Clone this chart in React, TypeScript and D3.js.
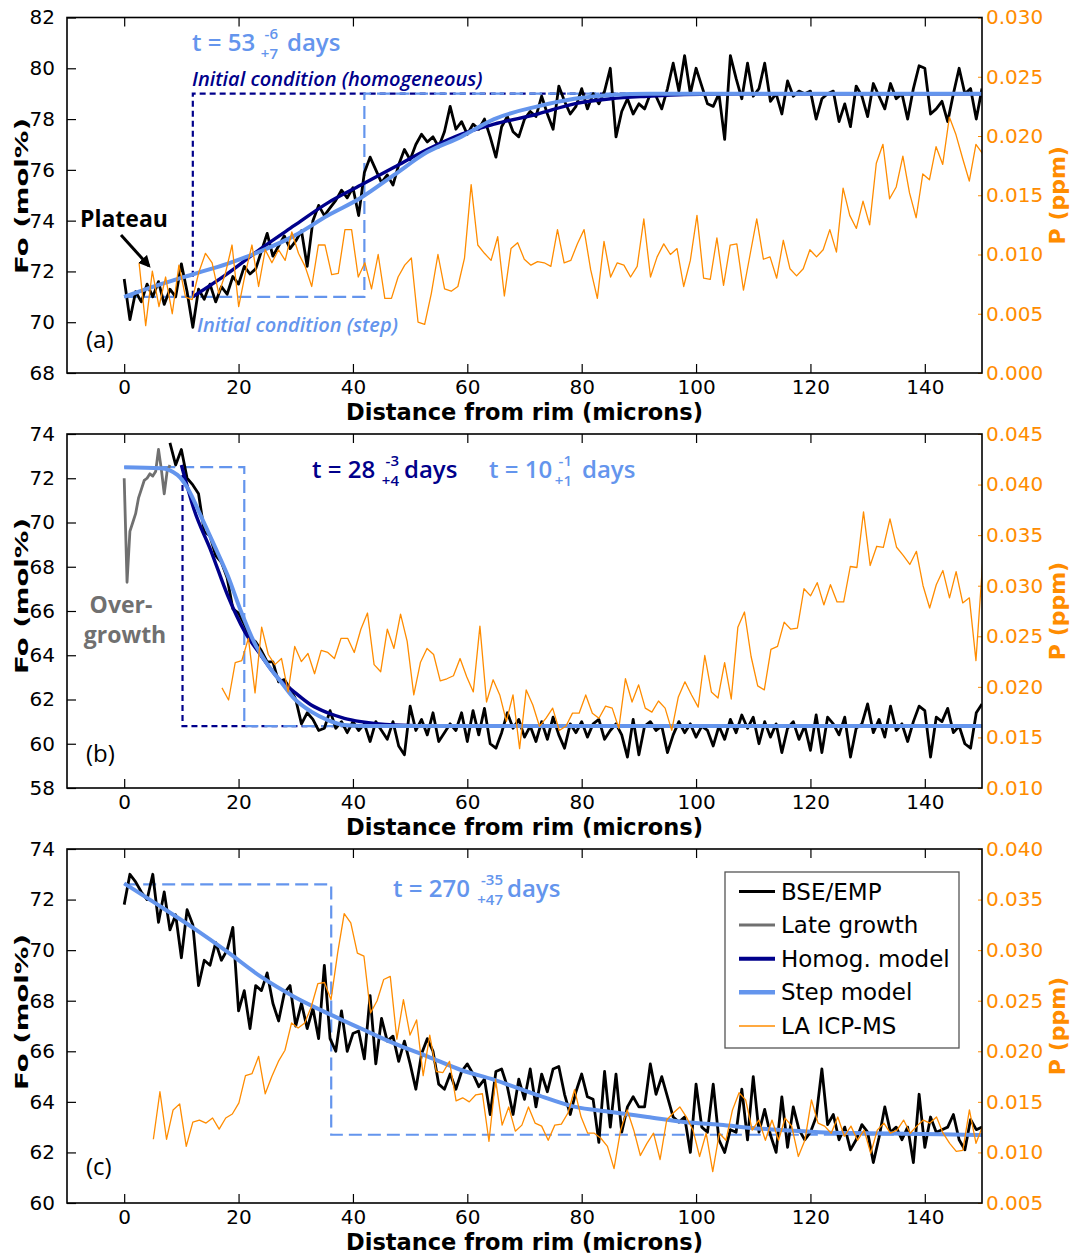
import React, { useEffect, useRef } from 'react';
import * as d3 from 'd3';

const width = 1073;
const height = 1254;
const plotLeft = 67;
const plotRight = 982;

const navy = '#00008b';
const lightBlue = '#6495ed';
const orange = '#ff8c00';
const grey = '#707070';
const tickFont = '"DejaVu Sans", sans-serif';
const noteFont = '"Open Sans", sans-serif';

const xDomain = [-10, 150];
const xTicks = [0, 20, 40, 60, 80, 100, 120, 140];

// ---------- panel (a) ----------
const foTicksA = [68, 70, 72, 74, 76, 78, 80, 82];
const pTicksA = [0, 0.005, 0.01, 0.015, 0.02, 0.025, 0.03];
const foStartA = 0;
const foA = [
  71.7, 70.1, 71.2, 70.8, 71.5, 71.0, 71.6, 70.7, 71.3, 71.0,
  72.3, 71.2, 69.8, 71.3, 70.9, 71.5, 70.8, 71.4, 71.1, 71.8,
  71.5, 72.2, 71.9, 72.1, 72.8, 73.5, 72.6, 73.0, 73.4, 72.9,
  73.2, 73.6, 72.2, 74.0, 74.6, 74.2, 74.5, 74.8, 75.2, 74.9,
  75.3, 74.2, 75.9, 76.5, 76.0, 75.5, 75.8, 75.4, 76.2, 76.8,
  76.4, 77.0, 77.4, 77.1, 77.3, 76.9, 77.5, 78.5, 77.6, 77.9,
  77.4, 77.8, 77.6, 78.0, 77.3, 76.5, 77.7, 78.1, 77.5, 77.3,
  78.0, 78.3, 78.1, 78.9, 78.2, 77.6, 79.3, 78.7, 78.2, 78.5,
  79.2, 78.4, 79.0, 78.6, 79.1, 80.0, 77.3, 78.3, 78.8, 78.2,
  78.6, 78.4, 79.0, 78.9, 78.4, 79.2, 80.2, 79.1, 80.5, 79.0,
  80.0, 79.3, 78.6, 78.5, 79.0, 77.2, 80.5, 79.6, 78.8, 80.2,
  78.9, 79.2, 80.2, 78.7, 79.0, 78.2, 79.5, 78.9, 79.1, 79.0,
  79.1, 78.0, 78.8, 79.0, 79.1, 77.9, 78.6, 77.7, 79.3, 78.9,
  78.1, 79.4, 78.9, 78.4, 79.4, 78.8, 79.0, 78.0, 79.2, 80.1,
  80.0, 78.2, 78.4, 78.7, 77.9, 79.0, 80.0, 79.0, 79.2, 78.0,
  79.2,
];
const pSpanA = [2.6, 150.1];
const pA = [
  0.0093, 0.0040, 0.0086, 0.0056, 0.0081, 0.0050, 0.0091, 0.0064, 0.0062, 0.0085,
  0.0101, 0.0093, 0.0067, 0.0084, 0.0108, 0.0056, 0.0084, 0.0108, 0.0073, 0.0104,
  0.0093, 0.0104, 0.0095, 0.0119, 0.0101, 0.0090, 0.0073, 0.0108, 0.0108, 0.0083,
  0.0084, 0.0121, 0.0121, 0.0081, 0.0093, 0.0071, 0.0100, 0.0063, 0.0063, 0.0081,
  0.0091, 0.0097, 0.0043, 0.0041, 0.0067, 0.0100, 0.0071, 0.0069, 0.0073, 0.0097,
  0.0159, 0.0108, 0.0101, 0.0095, 0.0115,
  0.0065, 0.0105, 0.0110, 0.0096, 0.0091, 0.0094, 0.0093, 0.0090, 0.0121,
  0.0093, 0.0095, 0.0109, 0.0121, 0.0087, 0.0063, 0.0111, 0.0081, 0.0093, 0.0091,
  0.0081, 0.0090, 0.0130, 0.0081, 0.0098, 0.0109, 0.0100, 0.0105, 0.0073, 0.0095,
  0.0133, 0.0080, 0.0079, 0.0114, 0.0074, 0.0108, 0.0109, 0.0070, 0.0100, 0.0130,
  0.0096, 0.0098, 0.0080, 0.0112, 0.0088, 0.0082, 0.0088, 0.0104, 0.0098, 0.0104,
  0.0121, 0.0102, 0.0156, 0.0133, 0.0122, 0.0145, 0.0125, 0.0177, 0.0193, 0.0147,
  0.0157, 0.0183, 0.0152, 0.0131, 0.0168, 0.0163, 0.0191, 0.0176, 0.0216, 0.0201,
  0.0181, 0.0162, 0.0193, 0.0185,
];
const homogA = [
  [12, 71.0], [18, 71.9], [23.9, 72.9], [29.7, 73.8], [35.6, 74.7], [41.4, 75.4],
  [47.2, 76.1], [53, 76.8], [58.9, 77.4], [64.7, 77.8], [72.3, 78.2], [78.7, 78.6],
  [85.1, 78.8], [91.5, 78.9], [97.9, 78.97], [110, 79.0], [150, 79.0],
];
const stepA = [
  [0, 71.0], [6.4, 71.5], [12.2, 71.9], [18, 72.3], [23.9, 72.8], [29.7, 73.4],
  [35.6, 74.2], [41.4, 74.9], [47.2, 75.8], [53, 76.7], [58.9, 77.3], [64.7, 78.0],
  [72.3, 78.5], [78.7, 78.8], [85.1, 78.95], [92, 79.0], [150, 79.0],
];
const homogInitA = [[12, 71], [12, 79], [150, 79]];
const stepInitA = [[0, 71], [42, 71], [42, 79], [150, 79]];

// ---------- panel (b) ----------
const foTicksB = [58, 60, 62, 64, 66, 68, 70, 72, 74];
const pTicksB = [0.01, 0.015, 0.02, 0.025, 0.03, 0.035, 0.04, 0.045];
const lateXB = [0, 0.5, 1, 1.5, 2, 2.5, 3, 3.5, 4, 4.5, 5, 5.5, 6, 6.5, 7, 7.5, 8];
const lateFoB = [72.0, 67.3, 69.6, 70.0, 70.4, 71.1, 71.5, 71.9, 72.0, 72.2, 72.1, 72.3, 73.3, 72.4, 71.3, 72.3, 72.6];
const foStartB = 8;
const foB = [
  73.6, 72.6, 73.3, 72.0, 71.7, 71.3, 69.6, 69.4, 68.5, 68.2,
  67.5, 66.1, 65.9, 65.4, 64.8, 64.6, 64.2, 63.7, 63.7, 62.8,
  62.9, 62.5, 62.0, 60.9, 61.4, 61.1, 60.6, 60.7, 61.5, 60.7,
  61.0, 60.5, 61.0, 60.6, 60.9, 60.1, 61.0, 60.6, 60.2, 61.0,
  59.9, 59.5, 61.7, 60.6, 61.1, 60.4, 61.4, 60.1, 60.5, 60.9,
  60.6, 61.4, 60.1, 61.5, 60.4, 61.6, 60.0, 59.8, 60.5, 61.4,
  60.7, 61.1, 60.3, 60.8, 60.1, 61.0, 60.2, 61.2, 60.4, 59.8,
  60.9, 60.5, 61.0, 60.3, 60.9, 61.1, 60.2, 60.6, 60.9, 60.4,
  59.4, 61.1, 59.5, 60.8, 61.0, 60.6, 60.8, 59.6, 60.4, 61.0,
  60.5, 60.9, 60.3, 60.8, 60.6, 59.9, 60.8, 60.2, 61.1, 60.5,
  61.3, 60.7, 61.2, 60.0, 61.0, 60.3, 60.9, 59.6, 60.7, 61.0,
  60.2, 60.8, 59.7, 61.3, 59.6, 61.2, 60.9, 60.4, 61.2, 59.4,
  60.7, 60.9, 61.8, 60.5, 61.1, 60.3, 61.7, 60.6, 60.9, 60.1,
  61.0, 61.7, 61.5, 59.4, 61.2, 61.0, 61.6, 60.5, 60.8, 60.0,
  59.8, 61.4, 61.8,
];
const pSpanB = [17.1, 150.1];
const pB = [
  0.0199, 0.0187, 0.0224, 0.0226, 0.0248, 0.0194, 0.0259, 0.0232, 0.0222, 0.0228,
  0.0195, 0.0240, 0.0225, 0.0233, 0.0213, 0.0236, 0.0234, 0.0228, 0.0248, 0.0248,
  0.0234, 0.0257, 0.0273, 0.0222, 0.0215, 0.0257, 0.0238, 0.0272, 0.0245, 0.0192,
  0.0224, 0.0238, 0.0232, 0.0206, 0.0208, 0.0211, 0.0228, 0.0210, 0.0195, 0.0260,
  0.0185, 0.0207, 0.0192, 0.0166, 0.0192, 0.0139,
  0.0197, 0.0182, 0.0161, 0.0169, 0.0179, 0.0157, 0.0161, 0.0174, 0.0174, 0.0192,
  0.0174, 0.0169, 0.0181, 0.0179, 0.0159, 0.0208, 0.0185, 0.0202, 0.0179, 0.0175,
  0.0186, 0.0179, 0.0157, 0.0190, 0.0205, 0.0192, 0.0180, 0.0231, 0.0195, 0.0189,
  0.0224, 0.0188, 0.0259, 0.0274, 0.0230, 0.0201, 0.0197, 0.0237, 0.0240, 0.0264,
  0.0257, 0.0258, 0.0297, 0.0290, 0.0303, 0.0281, 0.0301, 0.0284, 0.0284, 0.0319,
  0.0318, 0.0373, 0.0320, 0.0339, 0.0338, 0.0366, 0.0338, 0.0330, 0.0321, 0.0334,
  0.0300, 0.0278, 0.0301, 0.0315, 0.0288, 0.0314, 0.0283, 0.0288, 0.0226, 0.0322,
];
const homogB = [
  [10, 72.6], [12.2, 70.6], [15.2, 68.7], [18.1, 66.7], [21, 65.1], [23.9, 64.0],
  [26.8, 63.0], [29.7, 62.35], [32.7, 61.75], [35.6, 61.4], [38.5, 61.15], [41.4, 61.0],
  [47.2, 60.85], [55, 60.8], [150, 60.8],
];
const stepB = [
  [0, 72.5], [6.4, 72.45], [9.3, 72.15], [11.1, 71.55], [13.4, 70.3], [15.7, 69.0],
  [18.1, 67.6], [20.4, 66.0], [22.7, 64.6], [25.1, 63.56], [27.4, 62.8], [29.7, 62.05],
  [32.7, 61.45], [35.6, 61.07], [38.5, 60.85], [42, 60.8], [150, 60.8],
];
const homogInitB = [[10.2, 72.6], [10.2, 60.8], [150, 60.8]];
const stepInitB = [[0, 72.5], [21, 72.5], [21, 60.8], [150, 60.8]];

// ---------- panel (c) ----------
const foTicksC = [60, 62, 64, 66, 68, 70, 72, 74];
const pTicksC = [0.005, 0.01, 0.015, 0.02, 0.025, 0.03, 0.035, 0.04];
const foStartC = 0;
const foC = [
  71.8, 73.0, 72.7, 72.3, 72.0, 73.0, 71.1, 72.3, 70.8, 71.4,
  69.7, 71.6, 71.0, 68.6, 69.6, 69.4, 70.3, 69.6, 70.0, 70.9,
  67.6, 68.4, 66.9, 68.6, 68.4, 69.1, 67.9, 67.2, 68.3, 68.6,
  67.0, 67.9, 66.9, 67.7, 66.5, 69.4, 66.5, 66.0, 67.6, 66.0,
  66.7, 66.8, 65.7, 68.2, 65.5, 67.3, 66.4, 66.6, 65.6, 66.4,
  65.5, 64.5, 65.9, 66.5, 66.0, 64.7, 64.5, 65.1, 64.5, 65.2,
  65.5, 65.1, 64.6, 64.9, 63.5, 65.2, 65.3, 64.6, 63.5, 64.9,
  64.1, 65.3, 63.8, 65.1, 64.4, 65.3, 65.4, 64.3, 63.5, 64.4,
  65.1, 64.2, 64.1, 62.4, 65.2, 63.0, 65.1, 62.8, 63.8, 64.2,
  63.8, 63.8, 65.5, 64.3, 65.0, 64.2, 63.4, 63.2, 63.4, 62.0,
  64.7, 63.0, 62.8, 64.7, 62.5, 62.0, 62.9, 62.8, 64.5, 62.5,
  65.0, 62.8, 63.7, 62.7, 62.0, 64.2, 62.2, 63.8, 62.9, 62.5,
  62.8, 63.4, 65.3, 63.1, 63.5, 62.5, 63.0, 62.1, 62.5, 63.1,
  62.8, 61.6, 62.6, 63.8, 62.8, 63.0, 62.5, 63.0, 61.6, 64.3,
  62.2, 63.4, 62.8, 62.9, 63.0, 63.5, 62.5, 62.1, 63.3, 62.9,
  63.0,
];
const pSpanC = [5.1, 150.1];
const pC = [
  0.0113, 0.0160, 0.0113, 0.0142, 0.0148, 0.0106, 0.0130, 0.0132, 0.0129, 0.0134,
  0.0123, 0.0134, 0.0138, 0.0149, 0.0176, 0.0178, 0.0195, 0.0158, 0.0175, 0.0190,
  0.0201, 0.0228, 0.0223, 0.0228, 0.0244, 0.0267, 0.0268, 0.0251, 0.0297, 0.0336,
  0.0327, 0.0297, 0.0294, 0.0238, 0.0250, 0.0271, 0.0274, 0.0212, 0.0251, 0.0216,
  0.0231, 0.0176, 0.0216, 0.0180, 0.0179, 0.0190, 0.0151, 0.0154, 0.0150, 0.0157,
  0.0158, 0.0111, 0.0172, 0.0127, 0.0145, 0.0121,
  0.0127, 0.0145, 0.0129, 0.0126, 0.0112, 0.0127, 0.0128, 0.0139, 0.0162, 0.0135,
  0.0119, 0.0119, 0.0114, 0.0106, 0.0084, 0.0122, 0.0142, 0.0122, 0.0097, 0.0109,
  0.0119, 0.0093, 0.0132, 0.0139, 0.0145, 0.0135, 0.0122, 0.0096, 0.0119, 0.0081,
  0.0119, 0.0112, 0.0142, 0.0159, 0.0152, 0.0122, 0.0132, 0.0112, 0.0132, 0.0112,
  0.0134, 0.0126, 0.0096, 0.0112, 0.0152, 0.0129, 0.0126, 0.0119, 0.0135, 0.0116,
  0.0126, 0.0112, 0.0122, 0.0099, 0.0122, 0.0129, 0.0119, 0.0122, 0.0132, 0.0119,
  0.0126, 0.0132, 0.0129, 0.0135, 0.0119, 0.0109, 0.0101, 0.0102, 0.0142, 0.0109,
  0.0126,
];
const stepC = [
  [0, 72.64], [6.4, 71.72], [12.2, 70.86], [18, 69.94], [23.9, 68.95], [29.7, 68.16],
  [35.6, 67.5], [41.4, 66.9], [47.2, 66.31], [53.1, 65.79], [58.9, 65.26], [64.7, 64.87],
  [72.3, 64.27], [78.7, 63.81], [85.1, 63.6], [91.5, 63.4], [97.9, 63.2], [104.2, 63.09],
  [110.6, 62.95], [117, 62.86], [123.4, 62.78], [129.8, 62.76], [142.6, 62.72], [150, 62.69],
];
const stepInitC = [[0, 72.6], [36.2, 72.6], [36.2, 62.7], [150, 62.7]];

const legendLabels = ['BSE/EMP', 'Late growth', 'Homog. model', 'Step model', 'LA ICP-MS'];
const legendColors = ['#000', grey, navy, lightBlue, orange];
const legendWidths = [3, 3, 4, 4.5, 1.5];

const panels = [
  {
    key: 'a', top: 17.5, bottom: 373, foDomain: [68, 82], foTicks: foTicksA,
    pDomain: [0, 0.03], pTicks: pTicksA, foStart: foStartA, fo: foA, pSpan: pSpanA, p: pA,
    homog: homogA, step: stepA, homogInit: homogInitA, stepInit: stepInitA, labelMid: 196,
  },
  {
    key: 'b', top: 434, bottom: 788, foDomain: [58, 74], foTicks: foTicksB,
    pDomain: [0.01, 0.045], pTicks: pTicksB, foStart: foStartB, fo: foB, pSpan: pSpanB, p: pB,
    homog: homogB, step: stepB, homogInit: homogInitB, stepInit: stepInitB,
    lateX: lateXB, lateFo: lateFoB, labelMid: 596,
  },
  {
    key: 'c', top: 849, bottom: 1203, foDomain: [60, 74], foTicks: foTicksC,
    pDomain: [0.005, 0.04], pTicks: pTicksC, foStart: foStartC, fo: foC, pSpan: pSpanC, p: pC,
    homog: null, step: stepC, homogInit: null, stepInit: stepInitC, labelMid: 1012,
  },
];

function drawPanel(svg: any, cfg: any) {
  const x = d3.scaleLinear().domain(xDomain).range([plotLeft, plotRight]);
  const y = d3.scaleLinear().domain(cfg.foDomain).range([cfg.bottom, cfg.top]);
  const yP = d3.scaleLinear().domain(cfg.pDomain).range([cfg.bottom, cfg.top]);

  const g = svg.append('g').attr('class', 'panel-' + cfg.key);

  const clipId = 'clip-' + cfg.key;
  svg.append('defs').append('clipPath').attr('id', clipId)
    .append('rect')
    .attr('x', plotLeft).attr('y', cfg.top)
    .attr('width', plotRight - plotLeft).attr('height', cfg.bottom - cfg.top);

  const plot = g.append('g').attr('clip-path', `url(#${clipId})`);

  const line = d3.line<number[]>().x(d => x(d[0])).y(d => y(d[1]));
  const smooth = d3.line<number[]>().x(d => x(d[0])).y(d => y(d[1])).curve(d3.curveMonotoneX);
  const pLine = d3.line<number[]>().x(d => x(d[0])).y(d => yP(d[1]));

  // initial conditions (dashed)
  if (cfg.homogInit) {
    plot.append('path').datum(cfg.homogInit)
      .attr('d', line).attr('fill', 'none')
      .attr('stroke', navy).attr('stroke-width', 2.2)
      .attr('stroke-dasharray', '6 4');
  }
  plot.append('path').datum(cfg.stepInit)
    .attr('d', line).attr('fill', 'none')
    .attr('stroke', lightBlue).attr('stroke-width', 2.2)
    .attr('stroke-dasharray', '13 6');

  // measured profile
  const foPts = cfg.fo.map((v: number, i: number) => [cfg.foStart + i, v]);
  plot.append('path').datum(foPts)
    .attr('d', line).attr('fill', 'none')
    .attr('stroke', '#000').attr('stroke-width', 2.8)
    .attr('stroke-linejoin', 'round');

  if (cfg.lateX) {
    const latePts = cfg.lateX.map((v: number, i: number) => [v, cfg.lateFo[i]]);
    plot.append('path').datum(latePts)
      .attr('d', line).attr('fill', 'none')
      .attr('stroke', grey).attr('stroke-width', 2.8)
      .attr('stroke-linejoin', 'round');
  }

  // models
  if (cfg.homog) {
    plot.append('path').datum(cfg.homog)
      .attr('d', smooth).attr('fill', 'none')
      .attr('stroke', navy).attr('stroke-width', 3.4);
  }
  plot.append('path').datum(cfg.step)
    .attr('d', smooth).attr('fill', 'none')
    .attr('stroke', lightBlue).attr('stroke-width', 4);

  // LA ICP-MS P profile (sample positions evenly spaced over the scan)
  const n = cfg.p.length;
  const [p0, p1] = cfg.pSpan;
  const pPts = cfg.p.map((v: number, i: number) => [p0 + (i * (p1 - p0)) / (n - 1), v]);
  plot.append('path').datum(pPts)
    .attr('d', pLine).attr('fill', 'none')
    .attr('stroke', orange).attr('stroke-width', 1.3)
    .attr('stroke-linejoin', 'round');

  // axes
  const leftAxis = g.append('g')
    .attr('transform', `translate(${plotLeft},0)`)
    .call(d3.axisLeft(y).tickValues(cfg.foTicks).tickSize(-9).tickPadding(12).tickFormat(d3.format('d')));
  leftAxis.attr('font-size', 20).attr('font-family', tickFont);
  leftAxis.select('.domain').remove();
  leftAxis.selectAll('line').attr('stroke', '#000').attr('stroke-width', 1.2);
  leftAxis.selectAll('text').attr('fill', '#000');

  const rightAxis = g.append('g')
    .attr('transform', `translate(${plotRight},0)`)
    .call(d3.axisRight(yP).tickValues(cfg.pTicks).tickSize(-4).tickPadding(4).tickFormat(d3.format('.3f')));
  rightAxis.attr('font-size', 20).attr('font-family', tickFont);
  rightAxis.select('.domain').remove();
  rightAxis.selectAll('line').attr('stroke', orange).attr('stroke-width', 1);
  rightAxis.selectAll('text').attr('fill', orange);

  const bottomAxis = g.append('g')
    .attr('transform', `translate(0,${cfg.bottom})`)
    .call(d3.axisBottom(x).tickValues(xTicks).tickSize(-9).tickPadding(7).tickFormat(d3.format('d')));
  bottomAxis.attr('font-size', 20).attr('font-family', tickFont);
  bottomAxis.select('.domain').remove();
  bottomAxis.selectAll('line').attr('stroke', '#000').attr('stroke-width', 1.2);
  bottomAxis.selectAll('text').attr('fill', '#000');

  const topAxis = g.append('g')
    .attr('transform', `translate(0,${cfg.top})`)
    .call(d3.axisTop(x).tickValues(xTicks).tickSize(-9).tickFormat(() => ''));
  topAxis.select('.domain').remove();
  topAxis.selectAll('line').attr('stroke', '#000').attr('stroke-width', 1.2);

  // frame
  g.append('rect')
    .attr('x', plotLeft).attr('y', cfg.top)
    .attr('width', plotRight - plotLeft).attr('height', cfg.bottom - cfg.top)
    .attr('fill', 'none').attr('stroke', '#000').attr('stroke-width', 1.6);

  // axis titles
  g.append('text')
    .attr('x', (plotLeft + plotRight) / 2).attr('y', cfg.bottom + 46.5)
    .attr('text-anchor', 'middle')
    .attr('font-family', tickFont).attr('font-weight', 'bold').attr('font-size', 22.5)
    .text('Distance from rim (microns)');

  g.append('text')
    .attr('transform', `translate(28,${cfg.labelMid}) rotate(-90)`)
    .attr('text-anchor', 'middle')
    .attr('font-family', tickFont).attr('font-weight', 'bold').attr('font-size', 17)
    .attr('textLength', 156).attr('lengthAdjust', 'spacingAndGlyphs')
    .text('Fo (mol%)');

  g.append('text')
    .attr('transform', `translate(1065,${(cfg.top + cfg.bottom) / 2}) rotate(-90)`)
    .attr('text-anchor', 'middle')
    .attr('font-family', tickFont).attr('font-weight', 'bold').attr('font-size', 22)
    .attr('fill', orange)
    .text('P (ppm)');

  return { x, y, yP };
}

// "t = 53 (-6/+7) days" style label with stacked super/subscript
function timeLabel(svg: any, px: number, py: number, main: string, sup: string, sub: string, scriptEnd: number, daysX: number, color: string) {
  const t = svg.append('g')
    .attr('font-family', noteFont).attr('font-weight', 600).attr('fill', color);
  t.append('text').attr('x', px).attr('y', py).attr('font-size', 24).text(main);
  t.append('text').attr('x', scriptEnd).attr('y', py - 12).attr('text-anchor', 'end').attr('font-size', 15).text(sup);
  t.append('text').attr('x', scriptEnd).attr('y', py + 8).attr('text-anchor', 'end').attr('font-size', 15).text(sub);
  t.append('text').attr('x', daysX).attr('y', py).attr('font-size', 24).text('days');
}

export default function App() {
  const ref = useRef<SVGSVGElement>(null);

  useEffect(() => {
    const svg = d3.select(ref.current);
    svg.selectAll('*').remove();

    svg.append('rect').attr('width', width).attr('height', height).attr('fill', '#fff');

    panels.forEach(cfg => drawPanel(svg, cfg));

    // arrow marker
    svg.append('defs').append('marker')
      .attr('id', 'arrow').attr('viewBox', '0 0 10 10')
      .attr('refX', 8).attr('refY', 5)
      .attr('markerWidth', 4).attr('markerHeight', 4)
      .attr('orient', 'auto')
      .append('path').attr('d', 'M0,0 L10,5 L0,10 z').attr('fill', '#000');

    // ---- panel (a) notes
    timeLabel(svg, 192, 51, 't = 53', '-6', '+7', 278, 287, lightBlue);
    svg.append('text')
      .attr('x', 192).attr('y', 86)
      .attr('font-family', noteFont).attr('font-style', 'italic').attr('font-weight', 600)
      .attr('font-size', 20).attr('fill', navy)
      .text('Initial condition (homogeneous)');
    svg.append('text')
      .attr('x', 197).attr('y', 332)
      .attr('font-family', noteFont).attr('font-style', 'italic').attr('font-weight', 600)
      .attr('font-size', 20).attr('fill', lightBlue)
      .text('Initial condition (step)');
    svg.append('text')
      .attr('x', 80).attr('y', 227)
      .attr('font-family', noteFont).attr('font-weight', 700).attr('font-size', 23)
      .text('Plateau');
    svg.append('line')
      .attr('x1', 121).attr('y1', 235).attr('x2', 149).attr('y2', 266)
      .attr('stroke', '#000').attr('stroke-width', 3)
      .attr('marker-end', 'url(#arrow)');

    // ---- panel (b) notes
    timeLabel(svg, 312, 478, 't = 28', '-3', '+4', 399, 404, navy);
    timeLabel(svg, 489, 478, 't = 10', '-1', '+1', 572, 582, lightBlue);
    svg.append('text')
      .attr('x', 121).attr('y', 613).attr('text-anchor', 'middle')
      .attr('font-family', noteFont).attr('font-weight', 700).attr('font-size', 23)
      .attr('fill', grey).text('Over-');
    svg.append('text')
      .attr('x', 125).attr('y', 643).attr('text-anchor', 'middle')
      .attr('font-family', noteFont).attr('font-weight', 700).attr('font-size', 23)
      .attr('fill', grey).text('growth');

    // ---- panel (c) notes
    timeLabel(svg, 393, 897, 't = 270', '-35', '+47', 503, 507, lightBlue);

    // panel letters
    [['(a)', 348], ['(b)', 762], ['(c)', 1175]].forEach(([s, yy]) => {
      svg.append('text')
        .attr('x', 86).attr('y', yy as number)
        .attr('font-family', noteFont).attr('font-size', 24)
        .text(s as string);
    });

    // legend (panel c)
    const lg = svg.append('g').attr('font-family', tickFont).attr('font-size', 23);
    lg.append('rect')
      .attr('x', 725).attr('y', 872).attr('width', 234).attr('height', 176)
      .attr('fill', '#fff').attr('stroke', '#555').attr('stroke-width', 1.3);
    legendLabels.forEach((label, i) => {
      const yy = 891.5 + i * 33.6;
      lg.append('line')
        .attr('x1', 739).attr('x2', 775).attr('y1', yy).attr('y2', yy)
        .attr('stroke', legendColors[i]).attr('stroke-width', legendWidths[i]);
      lg.append('text')
        .attr('x', 781).attr('y', yy).attr('dy', '0.35em')
        .text(label);
    });
  }, []);

  return (
    <svg
      ref={ref}
      width={width}
      height={height}
      viewBox={`0 0 ${width} ${height}`}
      style={{ position: 'absolute', left: 0, top: 0 }}
    />
  );
}
